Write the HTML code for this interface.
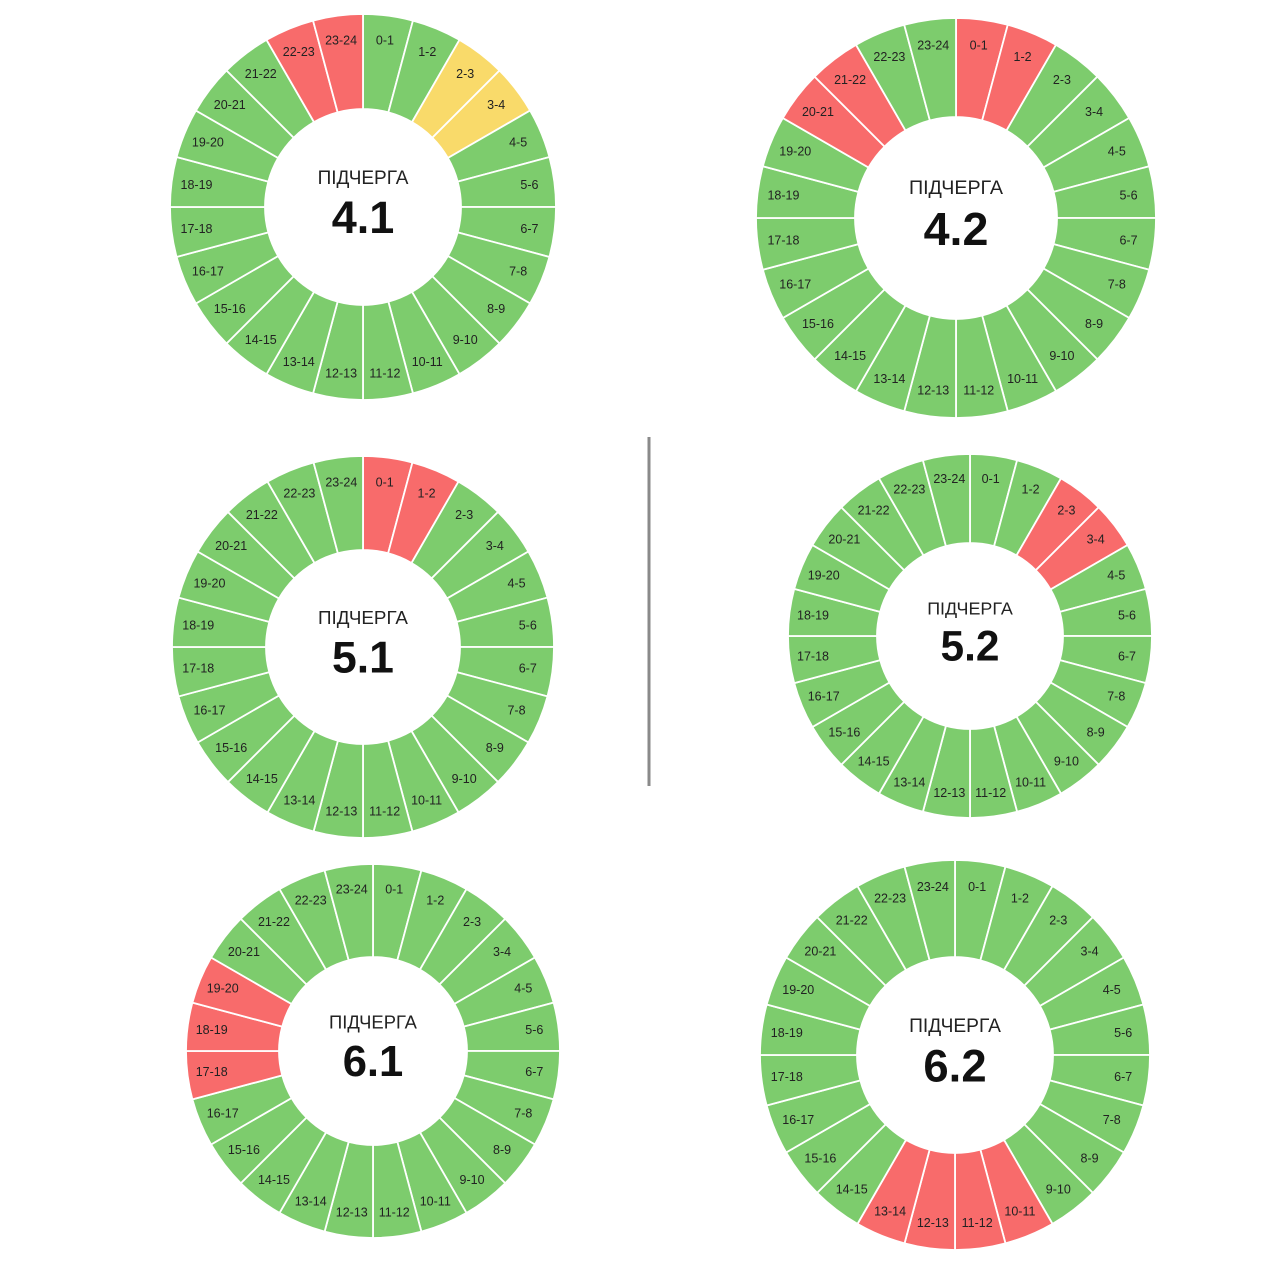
<!DOCTYPE html>
<html><head><meta charset="utf-8"><style>
html,body{margin:0;padding:0;background:#fff;width:1280px;height:1280px;overflow:hidden}
svg{display:block}
text{font-family:"Liberation Sans","DejaVu Sans",sans-serif}
</style></head><body>
<svg id="s" width="1280" height="1280" viewBox="0 0 1280 1280" xmlns="http://www.w3.org/2000/svg">
<rect x="647.5" y="437" width="3" height="349" fill="#8a8a8a"/>
</svg>
<script>
const G="#7dcc6d",R="#f86b6b",Y="#f9da6a";
const donuts=[
 {cx:363,cy:207,r:193,ri:98,n:"4.1",red:[22,23],yel:[2,3]},
 {cx:956,cy:218,r:200,ri:101,n:"4.2",red:[0,1,20,21],yel:[]},
 {cx:363,cy:647,r:191,ri:97,n:"5.1",red:[0,1],yel:[]},
 {cx:970,cy:636,r:182,ri:93,n:"5.2",red:[2,3],yel:[]},
 {cx:373,cy:1051,r:187,ri:94,n:"6.1",red:[17,18,19],yel:[]},
 {cx:955,cy:1055,r:195,ri:98,n:"6.2",red:[10,11,12,13],yel:[]}
];
const s=document.getElementById('s');let h='';
const P=(cx,cy,r,a)=>[cx+r*Math.sin(a),cy-r*Math.cos(a)];
for(const d of donuts){
 for(let i=0;i<24;i++){
  const a0=i*Math.PI/12,a1=(i+1)*Math.PI/12;
  const c=d.red.includes(i)?R:d.yel.includes(i)?Y:G;
  const [x0,y0]=P(d.cx,d.cy,d.r,a0),[x1,y1]=P(d.cx,d.cy,d.r,a1),[x2,y2]=P(d.cx,d.cy,d.ri,a1),[x3,y3]=P(d.cx,d.cy,d.ri,a0);
  h+=`<path d="M${x0},${y0}A${d.r},${d.r} 0 0 1 ${x1},${y1}L${x2},${y2}A${d.ri},${d.ri} 0 0 0 ${x3},${y3}Z" fill="${c}" stroke="#fff" stroke-width="1.8"/>`;
  const [lx,ly]=P(d.cx,d.cy,d.r*0.87,(a0+a1)/2);
  h+=`<text x="${lx}" y="${ly+4}" font-size="12.5" fill="#222" text-anchor="middle">${i}-${i+1}</text>`;
 }
 const k=d.r/193;
 h+=`<text x="${d.cx}" y="${d.cy-23*k}" font-size="${19*k}" fill="#222" text-anchor="middle">ПІДЧЕРГА</text>`;
 h+=`<text x="${d.cx}" y="${d.cy+26*k}" font-size="${45*k}" font-weight="bold" fill="#111" text-anchor="middle">${d.n}</text>`;
}
s.insertAdjacentHTML('beforeend',h);
</script>
</body></html>
